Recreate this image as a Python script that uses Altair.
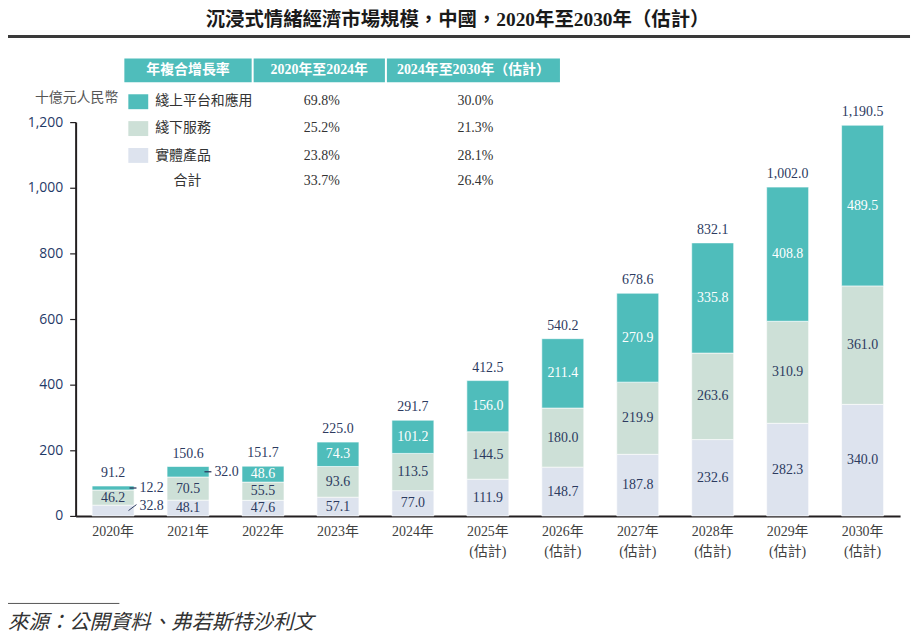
import altair as alt
import pandas as pd

# ---------------- data ----------------
years = ["2020年", "2021年", "2022年", "2023年", "2024年", "2025年",
         "2026年", "2027年", "2028年", "2029年", "2030年"]
year_note = ["", "", "", "", "", "(估計)", "(估計)", "(估計)", "(估計)", "(估計)", "(估計)"]

series_names = ["實體產品", "綫下服務", "綫上平台和應用"]   # bottom -> top
physical = [32.8, 48.1, 47.6, 57.1, 77.0, 111.9, 148.7, 187.8, 232.6, 282.3, 340.0]
offline = [46.2, 70.5, 55.5, 93.6, 113.5, 144.5, 180.0, 219.9, 263.6, 310.9, 361.0]
online = [12.2, 32.0, 48.6, 74.3, 101.2, 156.0, 211.4, 270.9, 335.8, 408.8, 489.5]
totals = [91.2, 150.6, 151.7, 225.0, 291.7, 412.5, 540.2, 678.6, 832.1, 1002.0, 1190.5]

# segments whose value label sits outside the bar, with a leader line
callouts_flat = [("2020年", "綫上平台和應用"), ("2021年", "綫上平台和應用")]
callouts_diag = [("2020年", "實體產品")]

cagr_header = ["年複合增長率", "2020年至2024年", "2024年至2030年（估計）"]
cagr_rows = ["綫上平台和應用", "綫下服務", "實體產品", "合計"]
cagr_2020_2024 = ["69.8%", "25.2%", "23.8%", "33.7%"]
cagr_2024_2030 = ["30.0%", "21.3%", "28.1%", "26.4%"]

title_text = "沉浸式情緒經濟市場規模，中國，2020年至2030年（估計）"
y_unit = "十億元人民幣"
source_text = "來源：公開資料、弗若斯特沙利文"

# ---------------- styles ----------------
TEAL = "#4fbdbb"
SAGE = "#cde0d7"
LAV = "#dde3ee"
NAVY = "#2c3a5f"
DARK = "#231f20"
SERIF = "Liberation Serif, Noto Sans CJK TC"
SANS = "Open Sans, Noto Sans CJK TC"
colors = {"實體產品": LAV, "綫下服務": SAGE, "綫上平台和應用": TEAL}

W, H = 829, 396

# ---------------- tables ----------------
rows = []
for i, yr in enumerate(years):
    base = 0.0
    for name, vals in zip(series_names, [physical, offline, online]):
        v = vals[i]
        kind = "inside"
        if (yr, name) in callouts_flat:
            kind = "flat"
        elif (yr, name) in callouts_diag:
            kind = "diag"
        rows.append({"year": yr, "series": name, "value": v, "y0": base,
                     "y1": base + v, "ymid": base + v / 2, "label": f"{v:.1f}",
                     "kind": kind})
        base += v
seg = pd.DataFrame(rows)

tot = pd.DataFrame({"year": years, "total": totals,
                    "label": [f"{t:,.1f}" for t in totals],
                    "note": year_note})

xscale = alt.Scale(domain=years, paddingInner=0.44, paddingOuter=0.22)
yscale = alt.Scale(domain=[0, 1200], nice=False)

bars = alt.Chart(seg).mark_bar(stroke="white", strokeWidth=0.6).encode(
    x=alt.X("year:N", scale=xscale, sort=years,
            axis=alt.Axis(labels=False, ticks=False, title=None,
                          domainColor=DARK, domainWidth=2)),
    y=alt.Y("y0:Q", scale=yscale,
            axis=alt.Axis(values=list(range(0, 1201, 200)), format=",d",
                          tickSize=6, tickColor=DARK, tickWidth=1.2,
                          domainColor=DARK, domainWidth=2, grid=False,
                          labelFont=SANS, labelFontSize=14, labelColor="#1f3a68",
                          labelPadding=7, title=None)),
    y2="y1:Q",
    color=alt.Color("series:N", scale=alt.Scale(domain=list(colors.keys()),
                                                range=list(colors.values())),
                    legend=None),
)

inside = seg[seg["kind"] == "inside"]
lab_dark = alt.Chart(inside[inside["series"] != "綫上平台和應用"]).mark_text(
    font=SERIF, fontSize=14, color=NAVY, baseline="middle").encode(
    x=alt.X("year:N", scale=xscale, sort=years), y=alt.Y("ymid:Q", scale=yscale), text="label:N")
lab_white = alt.Chart(inside[inside["series"] == "綫上平台和應用"]).mark_text(
    font=SERIF, fontSize=14, color="white", baseline="middle").encode(
    x=alt.X("year:N", scale=xscale, sort=years), y=alt.Y("ymid:Q", scale=yscale), text="label:N")

flat = seg[seg["kind"] == "flat"]
diag = seg[seg["kind"] == "diag"]
lead_flat = alt.Chart(flat).mark_rule(color=NAVY, strokeWidth=1.3, xOffset=16.5, x2Offset=23.5).encode(
    x=alt.X("year:N", scale=xscale, sort=years), x2="year:N",
    y=alt.Y("ymid:Q", scale=yscale), y2="ymid:Q")
lead_diag = alt.Chart(diag).mark_rule(color=NAVY, strokeWidth=1.0, xOffset=15.5, x2Offset=23.5,
                                      y2Offset=-6).encode(
    x=alt.X("year:N", scale=xscale, sort=years), x2="year:N",
    y=alt.Y("ymid:Q", scale=yscale), y2="ymid:Q")
call_flat = alt.Chart(flat).mark_text(font=SERIF, fontSize=14, color=NAVY, align="left",
                                      baseline="middle", dx=26.5).encode(
    x=alt.X("year:N", scale=xscale, sort=years), y=alt.Y("ymid:Q", scale=yscale), text="label:N")
call_diag = alt.Chart(diag).mark_text(font=SERIF, fontSize=14, color=NAVY, align="left",
                                      baseline="middle", dx=26.5, dy=-5).encode(
    x=alt.X("year:N", scale=xscale, sort=years), y=alt.Y("ymid:Q", scale=yscale), text="label:N")

tot_lab = alt.Chart(tot).mark_text(font=SERIF, fontSize=14, color=NAVY, baseline="bottom",
                                   dy=-6).encode(
    x=alt.X("year:N", scale=xscale, sort=years), y=alt.Y("total:Q", scale=yscale), text="label:N")

xl1 = alt.Chart(tot).mark_text(font=SERIF, fontSize=14, color="#404040", baseline="middle").encode(
    x=alt.X("year:N", scale=xscale, sort=years), y=alt.value(H + 16), text="year:N")
xl2 = alt.Chart(tot).mark_text(font=SERIF, fontSize=14, color="#404040", baseline="middle").encode(
    x=alt.X("year:N", scale=xscale, sort=years), y=alt.value(H + 36), text="note:N")


# ---------------- annotation helpers ----------------
def txt(text, x, y, size=14, color="#333333", weight="normal", align="center",
        font=SERIF, style="normal"):
    return alt.Chart(alt.Data(values=[{"t": text}])).mark_text(
        align=align, baseline="middle", fontSize=size, color=color,
        fontWeight=weight, font=font, fontStyle=style).encode(
        x=alt.value(x), y=alt.value(y), text="t:N")


def box(x1, x2, y1, y2, color):
    return alt.Chart(alt.Data(values=[{"a": 1}])).mark_rect(color=color).encode(
        x=alt.value(x1), x2=alt.value(x2), y=alt.value(y1), y2=alt.value(y2))


def hline(x1, x2, y, color, width):
    return alt.Chart(alt.Data(values=[{"a": 1}])).mark_rule(color=color, strokeWidth=width).encode(
        x=alt.value(x1), x2=alt.value(x2), y=alt.value(y))


ann = []
# title and its rule
ann.append(txt(title_text, 384, -103, size=19.5, color="#1a1a1a", weight="bold"))
ann.append(hline(-71, 839, -86, "#3a3a3a", 3))
# y unit
ann.append(txt(y_unit, 1, -24, size=14, color="#555555"))
# CAGR header cells
cells = [(49, 177), (179, 311), (313, 487)]
for (a, b), h in zip(cells, cagr_header):
    ann.append(box(a, b, -64, -40, TEAL))
    ann.append(txt(h, (a + b) / 2, -52, size=14, color="white", weight="bold"))
# legend rows
row_y = [-21, 6, 34, 59]
sq = [(-28, -13), (-1, 14), (26, 41)]
legend_series = ["綫上平台和應用", "綫下服務", "實體產品"]
for i, name in enumerate(cagr_rows):
    if i < 3:
        ann.append(box(53, 73, sq[i][0], sq[i][1], colors[legend_series[i]]))
        ann.append(txt(name, 80, row_y[i], size=14, align="left"))
    else:
        ann.append(txt(name, 112.5, row_y[i], size=14))
    ann.append(txt(cagr_2020_2024[i], 247.5, row_y[i], size=14))
    ann.append(txt(cagr_2024_2030[i], 402, row_y[i], size=14))
# source
ann.append(hline(-68, 44, 484, "#555555", 1))
ann.append(txt(source_text, -68, 504, size=20.5, color="#333333", align="left", style="italic"))

chart = alt.layer(bars, lab_dark, lab_white, lead_flat, lead_diag, call_flat, call_diag,
                  tot_lab, xl1, xl2, *ann).properties(
    width=W, height=H,
    autosize=alt.AutoSizeParams(type="none"),
    padding={"left": 68, "top": 113, "right": 12, "bottom": 122},
).configure_view(stroke=None)

chart.save("out.html", embed_options={"renderer": "svg", "actions": False})
